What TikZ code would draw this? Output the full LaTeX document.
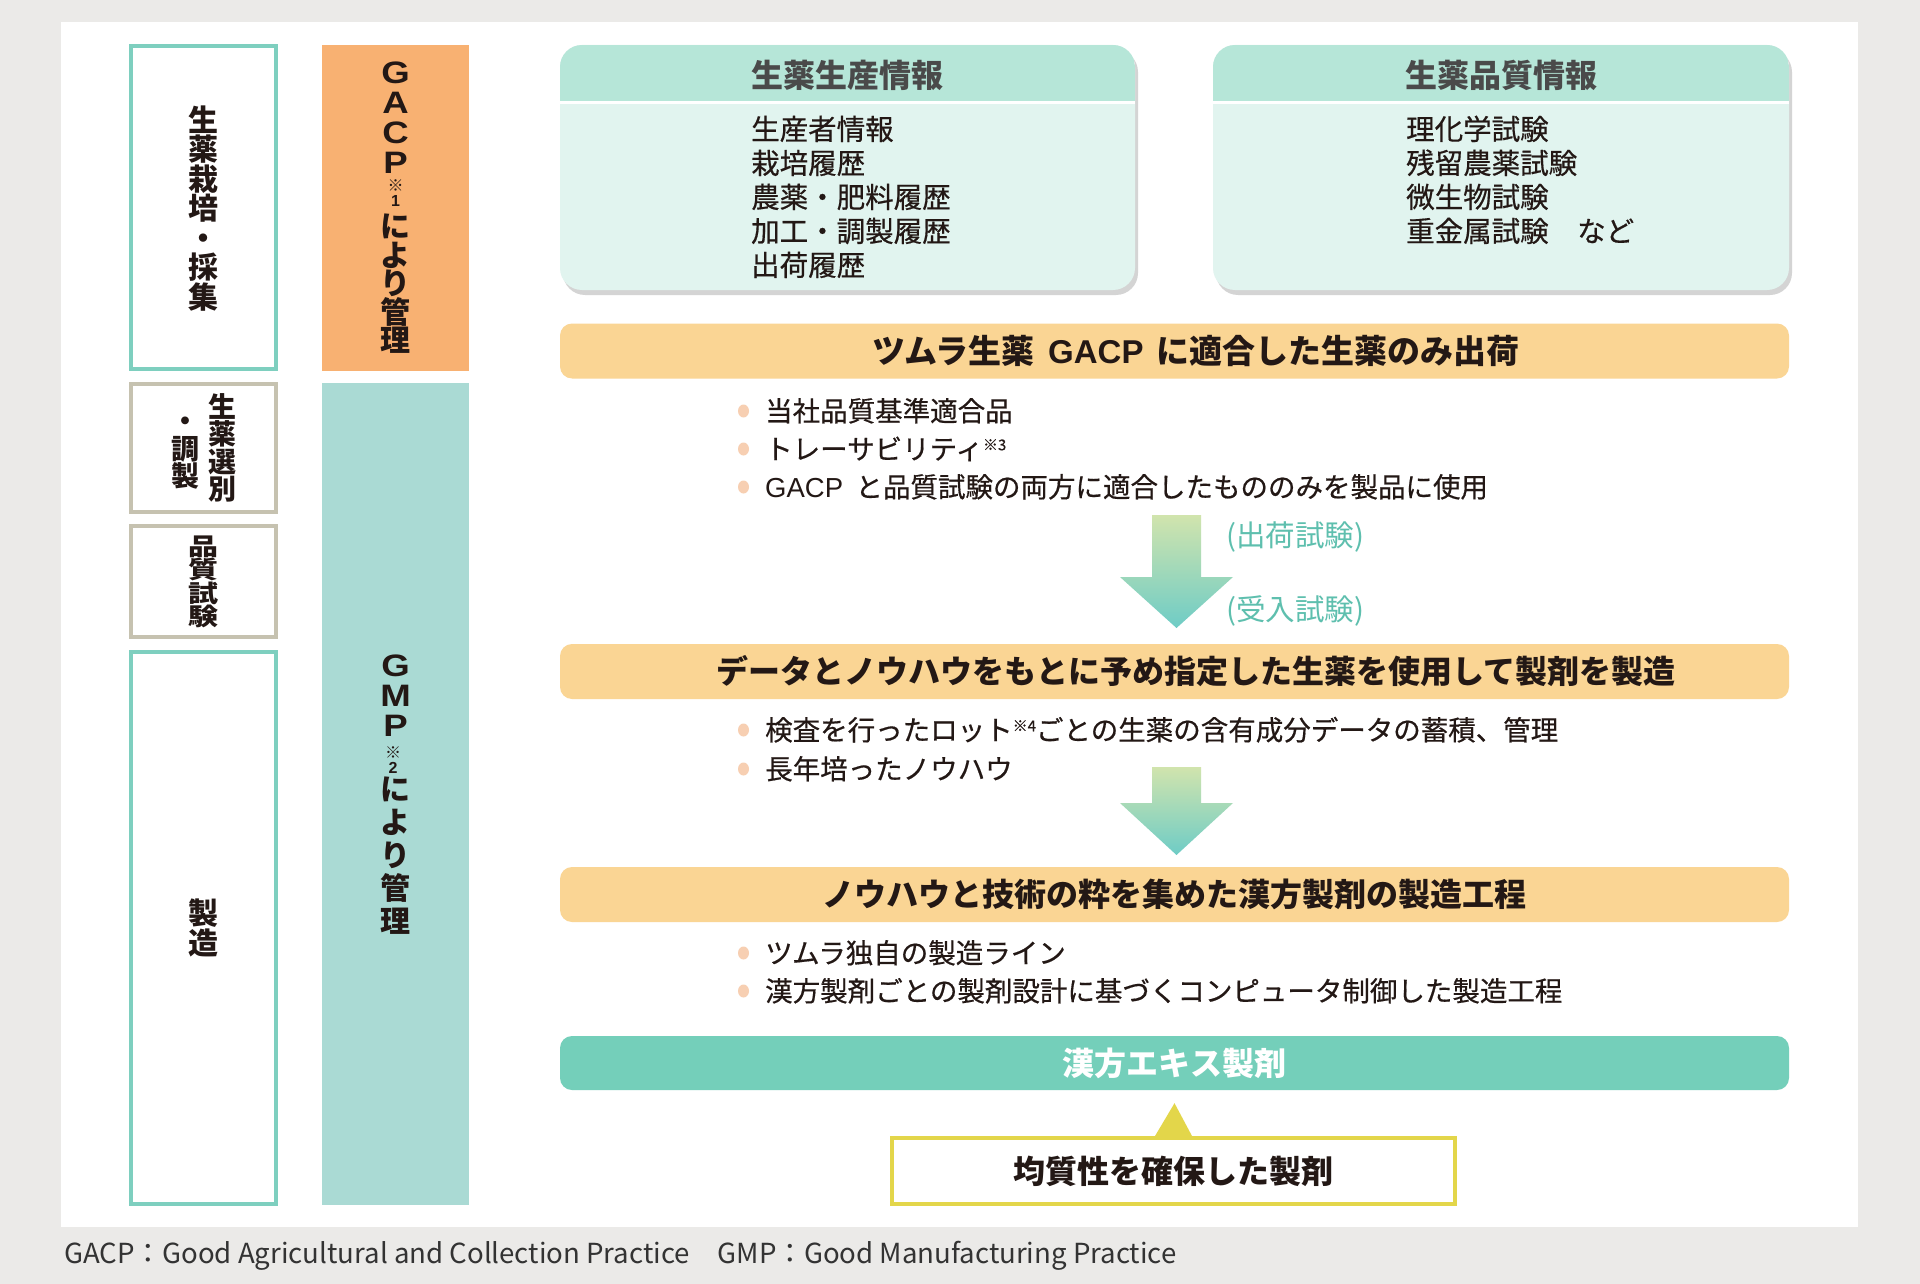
\documentclass[tikz,border=0pt]{standalone}
\usepackage{fontspec}
\setmainfont{Noto Sans CJK JP}
\newfontfamily\jpmed[FakeBold=0.5]{Noto Sans CJK JP}
\newfontfamily\latf{Liberation Sans}
\usetikzlibrary{shadows,calc}
\definecolor{bg}{HTML}{EBEAE8}
\definecolor{tealbd}{HTML}{7ECFBF}
\definecolor{graybd}{HTML}{C6C2B0}
\definecolor{orangebar}{HTML}{F8B172}
\definecolor{tealbar}{HTML}{AADAD4}
\definecolor{hdr}{HTML}{B6E6D8}
\definecolor{bdy}{HTML}{E1F4EF}
\definecolor{bannerc}{HTML}{FAD594}
\definecolor{dotc}{HTML}{F7CFB2}
\definecolor{tealban}{HTML}{74CFBA}
\definecolor{yel}{HTML}{E3D64A}
\definecolor{arrtop}{HTML}{D1E4AD}
\definecolor{arrbot}{HTML}{6ECCC6}
\definecolor{lbl}{HTML}{5EBFAE}
\definecolor{ink}{HTML}{231815}
\definecolor{hdrtxt}{HTML}{4A4A4A}
\definecolor{footc}{HTML}{333333}
\newcommand\tightlines{\lineskiplimit=-100pt\lineskip=0pt}
\newcommand\kome[1]{\raisebox{9pt}{\fontsize{15}{15}\selectfont ※#1}}
\newcommand\sq[1]{\scalebox{1}[0.8]{#1}}
\newcommand\widelet[1]{\scalebox{1.18}[1]{#1}}
\begin{document}
\begin{tikzpicture}[x=1pt,y=-1pt,
  every node/.style={inner sep=0pt, text=ink},
  lbox/.style={draw, line width=4pt, fill=white, minimum width=145pt},
  vt/.style={align=center},
  bar/.style={minimum width=147pt},
  bantext/.style={font={\bfseries\fontsize{32}{36}\selectfont}, text height=28pt, text depth=4pt},
  banner/.style={fill=bannerc, rounded corners=12pt, minimum width=1229pt, minimum height=55pt},
  body/.style={font={\jpmed\fontsize{28.5}{34}\selectfont}, text height=25pt, text depth=3.5pt, anchor=west},
  hdrtext/.style={font={\bfseries\fontsize{32}{36}\selectfont}, text=hdrtxt, text height=28pt, text depth=4pt},
  bul/.style={font={\jpmed\fontsize{27.5}{34}\selectfont}, text height=24pt, text depth=3.5pt, anchor=west},
  lbltext/.style={font={\fontsize{29.5}{34}\selectfont}, text=lbl, text height=25pt, text depth=4pt, anchor=west},
  bdot/.style={fill=dotc}
]
\useasboundingbox (0,0) rectangle (1920,1284);
\fill[bg] (0,0) rectangle (1920,1284);
\fill[white] (61,22) rectangle (1858,1227);

% left stage boxes
\node[lbox, draw=tealbd, minimum height=323pt] (s1) at (203.5,207.5) {};
\node[lbox, draw=graybd, minimum height=128pt] (s2) at (203.5,448) {};
\node[lbox, draw=graybd, minimum height=111pt] (s3) at (203.5,581.5) {};
\node[lbox, draw=tealbd, minimum height=552pt] (s4) at (203.5,928) {};

\node[vt, font={\bfseries\fontsize{30}{29.5}\selectfont\tightlines}] (l1) at (203.5,208.5) {生\\薬\\栽\\培\\・\\採\\集};
\node[vt, font={\bfseries\fontsize{28}{27.5}\selectfont\tightlines}] (l2a) at (222,448) {生\\薬\\選\\別};
\node[vt, font={\bfseries\fontsize{28}{27.5}\selectfont\tightlines}] (l2b) at (185,449) {\vphantom{調}・\\調\\製};
\node[vt, font={\bfseries\fontsize{30}{23.5}\selectfont\tightlines}] (l3) at (203.5,582) {\sq{品}\\\sq{質}\\\sq{試}\\\sq{験}};
\node[vt, font={\bfseries\fontsize{30}{29.5}\selectfont\tightlines}] (l4) at (203.5,928) {製\\造};

% management bars
\node[bar, fill=orangebar, minimum height=326pt] (gacpbar) at (395.5,208) {};
\node[bar, fill=tealbar, minimum height=822pt] (gmpbar) at (395.5,794) {};

\node[vt, font={\latf\bfseries\fontsize{31}{30}\selectfont\tightlines}] (g1) at (395.5,118) {\widelet{G}\\\widelet{A}\\\widelet{C}\\\widelet{P}};
\node[vt, font={\bfseries\fontsize{16}{15}\selectfont\tightlines}] (g1n) at (395.5,193) {※\\{\latf 1}};
\node[vt, font={\bfseries\fontsize{30}{28.5}\selectfont\tightlines}] (g1j) at (395.5,284) {に\\よ\\り\\管\\理};

\node[vt, font={\latf\bfseries\fontsize{31}{30}\selectfont\tightlines}] (m1) at (395.5,696) {\widelet{G}\\\widelet{M}\\\widelet{P}};
\node[vt, font={\bfseries\fontsize{16}{15}\selectfont\tightlines}] (m1n) at (393,760) {※\\{\latf 2}};
\node[vt, font={\bfseries\fontsize{30}{33}\selectfont\tightlines}] (m1j) at (395.5,856) {に\\よ\\り\\管\\理};

% top info boxes
\path[fill=bdy, rounded corners=22pt, drop shadow={shadow xshift=3pt, shadow yshift=-5pt, opacity=.3, fill=black!55}] (560,45) rectangle (1135,290);
\begin{scope}
\clip[rounded corners=22pt] (560,45) rectangle (1135,290);
\fill[hdr] (560,45) rectangle (1135,101);
\fill[white] (560,101) rectangle (1135,104.5);
\end{scope}
\path[fill=bdy, rounded corners=22pt, drop shadow={shadow xshift=3pt, shadow yshift=-5pt, opacity=.3, fill=black!55}] (1213,45) rectangle (1789,290);
\begin{scope}
\clip[rounded corners=22pt] (1213,45) rectangle (1789,290);
\fill[hdr] (1213,45) rectangle (1789,101);
\fill[white] (1213,101) rectangle (1789,104.5);
\end{scope}

\node[hdrtext] (hA) at (847.5,76) {生薬生産情報};
\node[hdrtext] (hB) at (1501,76) {生薬品質情報};

\node[body] (a1) at (751,129) {生産者情報};
\node[body] (a2) at (751,163) {栽培履歴};
\node[body] (a3) at (751,197) {農薬・肥料履歴};
\node[body] (a4) at (751,231) {加工・調製履歴};
\node[body] (a5) at (751,265) {出荷履歴};

\node[body] (q1) at (1406,129) {理化学試験};
\node[body] (q2) at (1406,163) {残留農薬試験};
\node[body] (q3) at (1406,197) {微生物試験};
\node[body] (q4) at (1406,231) {重金属試験　など};

% banner 1
\node[banner] (b1) at (1174.5,351) {};
\node[bantext, font={\bfseries\fontsize{33}{36}\selectfont}] (t1) at (1196,351) {ツムラ生薬\hspace{0.4em}{\latf GACP}\hspace{0.4em}に適合した生薬のみ出荷};
\fill[bdot] (743.5,411) ellipse (5.5pt and 6.5pt);
\fill[bdot] (743.5,449) ellipse (5.5pt and 6.5pt);
\fill[bdot] (743.5,487) ellipse (5.5pt and 6.5pt);
\node[bul] (p1) at (765,411) {当社品質基準適合品};
\node[bul] (p2) at (765,449) {トレーサビリティ\kome{3}};
\node[bul] (p3) at (765,487) {{\latf GACP}\hspace{0.45em}と品質試験の両方に適合したもののみを製品に使用};

% arrow 1
\shade[top color=arrtop, bottom color=arrbot] (1152,515) -- (1201,515) -- (1201,577) -- (1233,577) -- (1176.5,628) -- (1120,577) -- (1152,577) -- cycle;
\node[lbltext] (lb1) at (1226,536) {(出荷試験)};
\node[lbltext] (lb2) at (1226,610) {(受入試験)};

% banner 2
\node[banner] (b2) at (1174.5,671.5) {};
\node[bantext] (t2) at (1196,671.5) {データとノウハウをもとに予め指定した生薬を使用して製剤を製造};
\fill[bdot] (743.5,730) ellipse (5.5pt and 6.5pt);
\fill[bdot] (743.5,769) ellipse (5.5pt and 6.5pt);
\node[bul] (p4) at (765,730) {検査を行ったロット\kome{4}ごとの生薬の含有成分データの蓄積、管理};
\node[bul] (p5) at (765,769) {長年培ったノウハウ};

% arrow 2
\shade[top color=arrtop, bottom color=arrbot] (1152,767) -- (1201,767) -- (1201,803) -- (1233,803) -- (1176.5,855) -- (1120,803) -- (1152,803) -- cycle;

% banner 3
\node[banner] (b3) at (1174.5,894.5) {};
\node[bantext] (t3) at (1174.5,894.5) {ノウハウと技術の粋を集めた漢方製剤の製造工程};
\fill[bdot] (743.5,953) ellipse (5.5pt and 6.5pt);
\fill[bdot] (743.5,991) ellipse (5.5pt and 6.5pt);
\node[bul] (p6) at (765,953) {ツムラ独自の製造ライン};
\node[bul] (p7) at (765,991) {漢方製剤ごとの製剤設計に基づくコンピュータ制御した製造工程};

% final product
\node[banner, fill=tealban, minimum height=54pt, bantext, text=white] (tb) at (1174.5,1063) {漢方エキス製剤};
\node[draw=yel, line width=4pt, fill=white, minimum width=563pt, minimum height=66pt, bantext] (fin) at (1173.5,1171) {均質性を確保した製剤};
\coordinate (apex) at ($(tb.south)+(0,13)$);
\fill[yel] ($(fin.north)+(-18.5,0)$) -- (apex) -- ($(fin.north)+(18.5,0)$) -- cycle;

% footer
\node[anchor=base west, font={\fontsize{27.6}{30}\selectfont}, text=footc] (foot) at (64,1263) {GACP：Good Agricultural and Collection Practice　GMP：Good Manufacturing Practice};
\end{tikzpicture}
\end{document}
